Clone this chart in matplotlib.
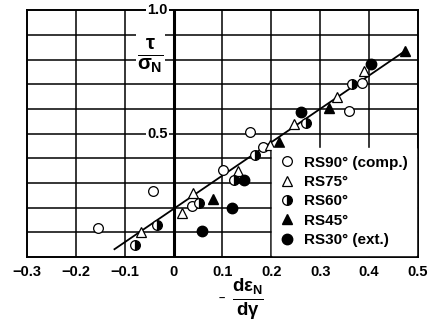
import matplotlib
matplotlib.use("Agg")
import matplotlib.pyplot as plt
import numpy as np

plt.rcParams["font.family"] = ["Liberation Sans", "DejaVu Sans"]
plt.rcParams["font.weight"] = "bold"
plt.rcParams["mathtext.fontset"] = "custom"
plt.rcParams["mathtext.rm"] = "Liberation Sans:bold"
plt.rcParams["mathtext.it"] = "Liberation Sans:bold"
plt.rcParams["mathtext.bf"] = "Liberation Sans:bold"

# -dε/dγ  vs  τ/σN
rs90_x = [-0.154, -0.043, 0.038, 0.102, 0.156, 0.183, 0.386, 0.360]
rs90_y = [0.116, 0.267, 0.207, 0.352, 0.505, 0.447, 0.703, 0.590]

rs75_x = [-0.067, 0.018, 0.040, 0.131, 0.197, 0.247, 0.335, 0.389]
rs75_y = [0.100, 0.180, 0.260, 0.348, 0.453, 0.540, 0.649, 0.754]

rs60_x = [-0.080, -0.033, 0.053, 0.124, 0.166, 0.271, 0.366]
rs60_y = [0.049, 0.130, 0.220, 0.310, 0.413, 0.541, 0.700]

rs45_x = [0.080, 0.216, 0.318, 0.474]
rs45_y = [0.235, 0.465, 0.602, 0.833]

rs30_x = [0.058, 0.119, 0.145, 0.261, 0.405]
rs30_y = [0.106, 0.197, 0.310, 0.588, 0.781]

# fitted straight line
fit_x = [-0.121, 0.472]
fit_slope = 1.35
fit_icpt = 0.195

x_ticks = [-0.3, -0.2, -0.1, 0.0, 0.1, 0.2, 0.3, 0.4, 0.5]
x_labels = ["\u22120.3", "\u22120.2", "\u22120.1", "0", "0.1", "0.2", "0.3", "0.4", "0.5"]
y_grid = [0.1, 0.2, 0.3, 0.4, 0.5, 0.6, 0.7, 0.8, 0.9]

fig = plt.figure(figsize=(4.29, 3.27), dpi=100)
ax = fig.add_axes([0.063, 0.214, 0.911, 0.755])
ax.set_xlim(-0.3, 0.5)
ax.set_ylim(0.0, 1.0)

for yv in y_grid:
    ax.axhline(yv, color="black", lw=1.1, zorder=1)
for xv in x_ticks[1:-1]:
    ax.axvline(xv, color="black", lw=2.2 if xv == 0 else 1.1, zorder=1)

for s in ax.spines.values():
    s.set_linewidth(1.4)

ax.set_xticks(x_ticks)
ax.set_xticklabels(x_labels, fontsize=10.5, fontweight="bold")
ax.set_yticks([])
ax.tick_params(axis="x", length=0, pad=6)

fx = np.array(fit_x)
ax.plot(fx, fit_icpt + fit_slope * fx, color="black", lw=1.3, zorder=2)

ms = 7
ax.plot(rs90_x, rs90_y, "o", ms=ms, mfc="white", mec="black", mew=0.9,
        label="RS90\u00b0 (comp.)", zorder=3)
ax.plot(rs75_x, rs75_y, "^", ms=ms, mfc="white", mec="black", mew=0.9,
        label="RS75\u00b0", zorder=3)
ax.plot(rs60_x, rs60_y, "o", ms=ms, fillstyle="right", mfc="black",
        markerfacecoloralt="white", mec="black", mew=0.9,
        label="RS60\u00b0", zorder=3)
ax.plot(rs45_x, rs45_y, "^", ms=ms, color="black", label="RS45\u00b0", zorder=3)
ax.plot(rs30_x, rs30_y, "o", ms=ms + 0.5, color="black",
        label="RS30\u00b0 (ext.)", zorder=3)

leg = ax.legend(loc="lower right", bbox_to_anchor=(1.0, 0.0), frameon=True,
                fancybox=False, framealpha=1, edgecolor="white",
                prop={"size": 11, "weight": "bold"}, handlelength=1.0,
                handletextpad=0.6, labelspacing=0.35, borderaxespad=0.15,
                borderpad=0.5)
leg.set_zorder(4)

box = dict(facecolor="white", edgecolor="none", pad=1.0)
ax.text(-0.012, 1.0, "1.0", ha="right", va="center", fontsize=10.5,
        fontweight="bold", bbox=box, clip_on=False, zorder=5)
ax.text(-0.012, 0.5, "0.5", ha="right", va="center", fontsize=10.5,
        fontweight="bold", bbox=box, zorder=5)
ax.text(-0.047, 0.818, r"$\frac{\tau}{\sigma_N}$", ha="center", va="center",
        fontsize=21, bbox=box, zorder=5)

fig.text(0.517, 0.085, "\u2013", ha="center", va="center", fontsize=8)
fig.text(0.578, 0.082, r"$\frac{d\epsilon_N}{d\gamma}$", ha="center",
         va="center", fontsize=19)

fig.savefig("out.png", dpi=100)
